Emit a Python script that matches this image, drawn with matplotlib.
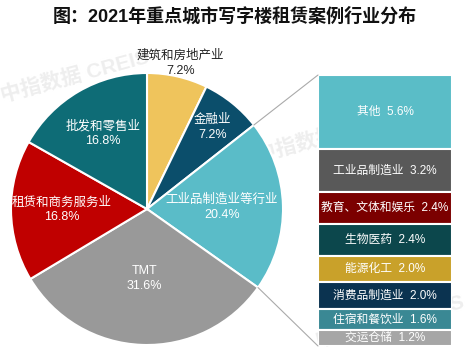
import matplotlib
matplotlib.use("Agg")
import matplotlib.pyplot as plt
from matplotlib.patches import ConnectionPatch
import numpy as np

plt.rcParams['font.family'] = ['Liberation Sans', 'Noto Sans CJK SC', 'DejaVu Sans']

title = "图：2021年重点城市写字楼租赁案例行业分布"

pie_labels = ["建筑和房地产业", "金融业", "工业品制造业等行业", "TMT", "租赁和商务服务业", "批发和零售业"]
pie_values = [7.2, 7.2, 20.4, 31.6, 16.8, 16.8]
pie_colors = ["#EFC45C", "#0B4E6B", "#5ABCC8", "#999999", "#C00000", "#0E6C76"]
pie_text_colors = ["#222222", "white", "white", "white", "white", "white"]
pie_label_r = [1.10, 0.77, 0.55, 0.51, 0.63, 0.64]

bar_labels = ["其他", "工业品制造业", "教育、文体和娱乐", "生物医药", "能源化工", "消费品制造业", "住宿和餐饮业", "交运仓储"]
bar_values = [5.6, 3.2, 2.4, 2.4, 2.0, 2.0, 1.6, 1.2]
bar_colors = ["#5ABDC7", "#595959", "#7B0000", "#0C474C", "#C9A12A", "#0B3350", "#3A8894", "#A6A6A6"]

W, H = 470, 361
fig = plt.figure(figsize=(W / 100, H / 100), dpi=100)
ax = fig.add_axes([0, 0, 1, 1])
ax.set_xlim(0, W)
ax.set_ylim(0, H)
ax.axis('off')

# faint watermarks
for (x, y) in [(75, 285), (330, 225), (390, 40)]:
    ax.text(x, y, "中指数据 CREIS", fontsize=15, color="#eeeeee", rotation=15,
            ha='center', va='center', fontweight='bold', zorder=0)

cx, cy, R = 147, 152, 136
wedges, _ = ax.pie(pie_values, colors=pie_colors, startangle=90, counterclock=False,
                   center=(cx, cy), radius=R,
                   wedgeprops=dict(edgecolor='white', linewidth=1.5))
ax.set_aspect('equal')
ax.set_xlim(0, W)
ax.set_ylim(0, H)

total = sum(pie_values)
cum = 0
for lab, v, tc, rf in zip(pie_labels, pie_values, pie_text_colors, pie_label_r):
    mid = 90 - 360 * (cum + v / 2) / total
    cum += v
    x = cx + rf * R * np.cos(np.radians(mid))
    y = cy + rf * R * np.sin(np.radians(mid))
    ax.text(x, y, f"{lab}\n{v:.1f}%", ha='center', va='center', color=tc,
            fontsize=9, linespacing=1.3)

ax.text(W / 2, H - 17, title, ha='center', va='center', fontsize=13,
        fontweight='bold', color='#111111')

# stacked bar
bax = fig.add_axes([318 / W, (H - 346) / H, 134 / W, 271 / H])
bottoms = np.concatenate([[0], np.cumsum(bar_values)[:-1]])
bax.bar([0] * len(bar_values), bar_values, bottom=bottoms, width=1.0,
        color=bar_colors, edgecolor='white', linewidth=1.5)
bax.set_xlim(-0.5, 0.5)
bax.set_ylim(sum(bar_values), 0)
bax.axis('off')
for lab, v, b in zip(bar_labels, bar_values, bottoms):
    bax.text(0, b + v / 2, f"{lab}  {v:.1f}%", ha='center', va='center',
             color='white', fontsize=8.5)

# connecting lines
a1 = 90 - 360 * sum(pie_values[:2]) / total
a2 = 90 - 360 * sum(pie_values[:3]) / total
for ang, corner in [(a1, (0, 1)), (a2, (0, 0))]:
    p = (cx + R * np.cos(np.radians(ang)), cy + R * np.sin(np.radians(ang)))
    con = ConnectionPatch(xyA=p, coordsA=ax.transData, xyB=corner, coordsB=bax.transAxes,
                          color='#AAAAAA', linewidth=0.8)
    fig.add_artist(con)

fig.savefig("out.png", dpi=100)
